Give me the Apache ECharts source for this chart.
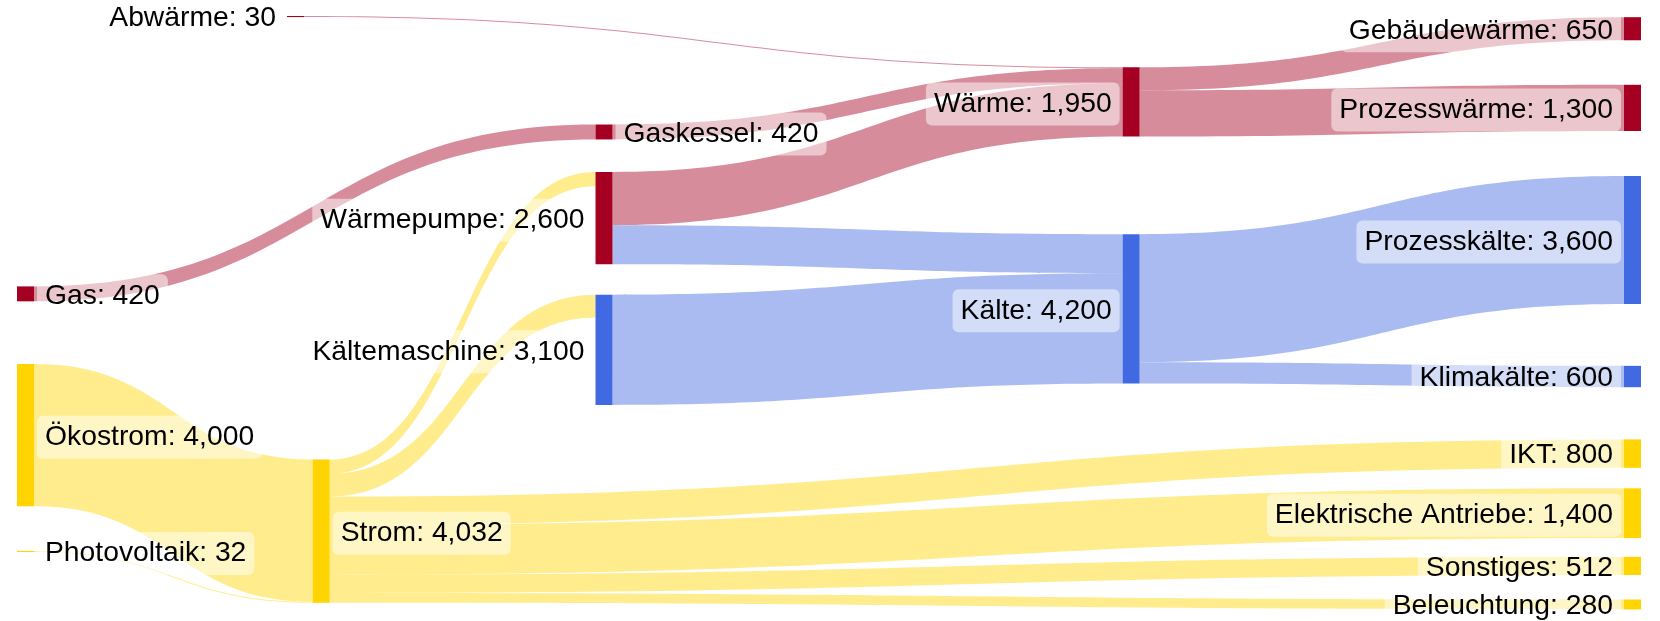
<!DOCTYPE html>
<html>
<head>
<meta charset="utf-8">
<script src="https://cdn.jsdelivr.net/npm/echarts@6/dist/echarts.min.js"></script>
<style>
  html, body { margin: 0; padding: 0; background: #ffffff; }
  #chart { width: 1660px; height: 621px; }
</style>
</head>
<body>
<div id="chart"></div>
<script>
// Energy flows from sources via converters to final uses
const nodeNames = [
  'Abwärme', 'Gas', 'Ökostrom', 'Photovoltaik', 'Strom',
  'Gaskessel', 'Wärmepumpe', 'Kältemaschine',
  'Wärme', 'Kälte',
  'Gebäudewärme', 'Prozesswärme', 'Prozesskälte', 'Klimakälte',
  'IKT', 'Elektrische Antriebe', 'Sonstiges', 'Beleuchtung'
];

const linkSources = [
  'Ökostrom', 'Photovoltaik', 'Gas', 'Abwärme', 'Gaskessel',
  'Strom', 'Strom', 'Strom', 'Strom', 'Strom', 'Strom',
  'Wärmepumpe', 'Wärmepumpe', 'Kältemaschine',
  'Wärme', 'Wärme', 'Kälte', 'Kälte'
];
const linkTargets = [
  'Strom', 'Strom', 'Gaskessel', 'Wärme', 'Wärme',
  'Wärmepumpe', 'Kältemaschine', 'IKT', 'Elektrische Antriebe', 'Sonstiges', 'Beleuchtung',
  'Wärme', 'Kälte', 'Kälte',
  'Gebäudewärme', 'Prozesswärme', 'Prozesskälte', 'Klimakälte'
];
const linkValues = [
  4000, 32, 420, 30, 420,
  400, 640, 800, 1400, 512, 280,
  1500, 1100, 3100,
  650, 1300, 3600, 600
];

// Energy carrier of each node (decides its colour)
const nodeCarrier = {
  'Abwärme': 'heat', 'Gas': 'heat', 'Gaskessel': 'heat', 'Wärmepumpe': 'heat',
  'Wärme': 'heat', 'Gebäudewärme': 'heat', 'Prozesswärme': 'heat',
  'Kältemaschine': 'cold', 'Kälte': 'cold', 'Prozesskälte': 'cold', 'Klimakälte': 'cold',
  'Ökostrom': 'power', 'Photovoltaik': 'power', 'Strom': 'power', 'IKT': 'power',
  'Elektrische Antriebe': 'power', 'Sonstiges': 'power', 'Beleuchtung': 'power'
};
const carrierColor = { heat: '#A50021', cold: '#4169E1', power: '#FFD400' };

// Node arrangement: column (sankey depth) and vertical slot (share of the layout height)
const columnDepth = {
  'Gas': 0, 'Ökostrom': 0, 'Photovoltaik': 0,
  'Abwärme': 21, 'Strom': 23,
  'Gaskessel': 45, 'Wärmepumpe': 45, 'Kältemaschine': 45,
  'Wärme': 86, 'Kälte': 86,
  'Gebäudewärme': 125, 'Prozesswärme': 125, 'Prozesskälte': 125, 'Klimakälte': 125,
  'IKT': 125, 'Elektrische Antriebe': 125, 'Sonstiges': 125, 'Beleuchtung': 125
};
const rowSlot = {
  'Abwärme': 0.000, 'Gas': 0.456, 'Ökostrom': 0.587, 'Photovoltaik': 0.902,
  'Strom': 0.748,
  'Gaskessel': 0.183, 'Wärmepumpe': 0.263, 'Kältemaschine': 0.470,
  'Wärme': 0.0865, 'Kälte': 0.368,
  'Gebäudewärme': 0.002, 'Prozesswärme': 0.116, 'Prozesskälte': 0.270, 'Klimakälte': 0.590,
  'IKT': 0.714, 'Elektrische Antriebe': 0.7965, 'Sonstiges': 0.912, 'Beleuchtung': 0.984
};
// Nodes whose label sits on the right-hand side of the bar
const labelRight = new Set(['Gas', 'Ökostrom', 'Photovoltaik', 'Strom', 'Gaskessel']);

// Node totals: larger of inflow and outflow
const inSum = {}, outSum = {};
linkValues.forEach((v, i) => {
  outSum[linkSources[i]] = (outSum[linkSources[i]] || 0) + v;
  inSum[linkTargets[i]] = (inSum[linkTargets[i]] || 0) + v;
});
const nodeTotal = name => Math.max(inSum[name] || 0, outSum[name] || 0);

const fmt = v => v.toLocaleString('en-US');

const nodes = nodeNames.map(name => ({
  name: name,
  value: nodeTotal(name),
  depth: columnDepth[name],
  localY: rowSlot[name],
  itemStyle: { color: carrierColor[nodeCarrier[name]] },
  label: { position: labelRight.has(name) ? 'right' : 'left' }
}));

const links = linkValues.map((v, i) => {
  const src = linkSources[i], tgt = linkTargets[i];
  // electricity keeps its colour up to the converters; everything else takes the product colour
  const carrier = nodeCarrier[src] === 'power' ? 'power' : nodeCarrier[tgt];
  return {
    source: src,
    target: tgt,
    value: v,
    lineStyle: { color: carrierColor[carrier], opacity: 0.45 }
  };
});

const chart = echarts.init(document.getElementById('chart'), null, { renderer: 'canvas' });
chart.setOption({
  animation: false,
  backgroundColor: '#ffffff',
  series: [{
    type: 'sankey',
    left: 17,
    right: 19,
    top: 16,
    bottom: 12,
    nodeWidth: 17,
    nodeGap: 38.3,
    nodeAlign: 'left',
    layoutIterations: 0,
    draggable: false,
    emphasis: { disabled: true },
    data: nodes,
    links: links,
    itemStyle: { borderWidth: 0 },
    lineStyle: { curveness: 0.5 },
    label: {
      show: true,
      distance: 3,
      offset: [0, 2],
      color: '#000000',
      fontFamily: 'Liberation Sans, Arial, sans-serif',
      fontSize: 28.3,
      lineHeight: 32,
      padding: [6, 8, 5, 8],
      backgroundColor: 'rgba(255,255,255,0.5)',
      borderRadius: 6,
      formatter: p => p.name + ': ' + fmt(nodeTotal(p.name))
    }
  }]
});
</script>
</body>
</html>
